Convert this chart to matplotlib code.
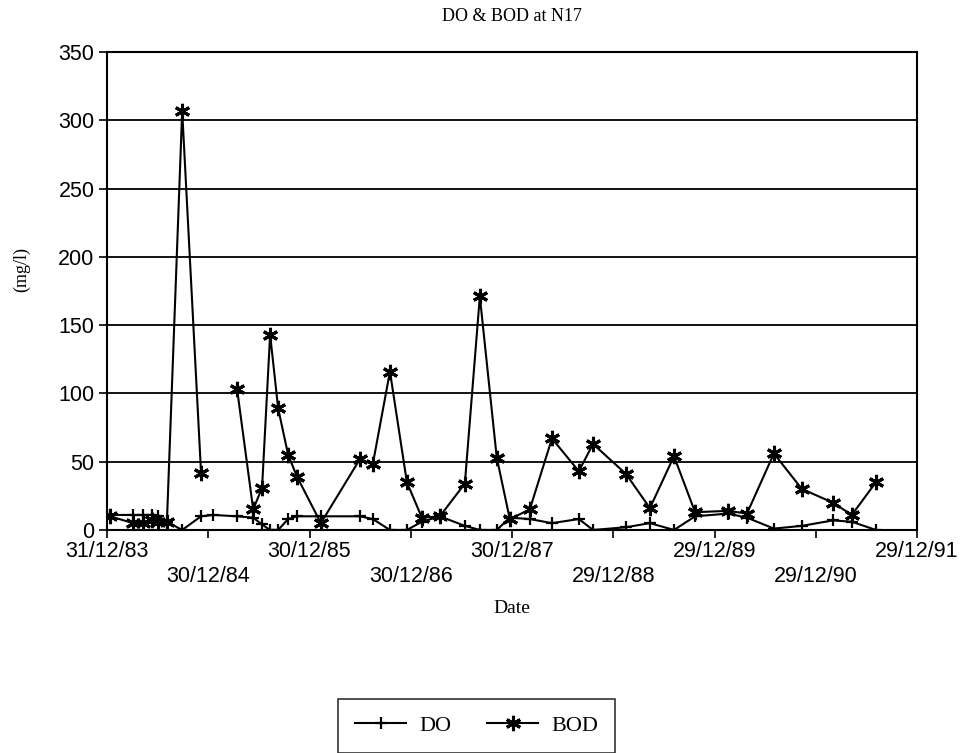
import numpy as np
import pandas as pd
import matplotlib
matplotlib.use("Agg")
import matplotlib.pyplot as plt
from matplotlib.lines import Line2D

# sampling dates at station N17
dates = ["1984-01-11", "1984-04-03", "1984-05-09", "1984-06-11", "1984-07-02",
         "1984-08-03", "1984-09-27", "1984-12-04", "1985-01-17", "1985-04-13",
         "1985-06-10", "1985-07-12", "1985-08-10", "1985-09-08", "1985-10-14",
         "1985-11-15", "1986-02-09", "1986-06-30", "1986-08-15", "1986-10-16",
         "1986-12-16", "1987-02-08", "1987-04-14", "1987-07-13", "1987-09-05",
         "1987-11-05", "1987-12-22", "1988-03-03", "1988-05-22", "1988-08-27",
         "1988-10-17", "1989-02-13", "1989-05-10", "1989-08-05", "1989-10-20",
         "1990-02-16", "1990-04-25", "1990-07-31", "1990-11-09", "1991-03-01",
         "1991-05-08", "1991-08-03"]

do_vals = [11, 11, 11, 11, 10, 6, 0, 10, 11, 10,
           9, 4, 0, 0, 8, 10, 10, 10, 8, 0,
           0, 6, 10, 3, 0, 0, 9, 8, 5, 8,
           0, 2, 5, 0, 10, 12, 9, 1, 3, 7,
           6, 0]

bod_vals = [10, 5, 5, 7, 6, 6, 307, 42, np.nan, 103,
            15, 31, 143, 89, 55, 39, 5, 52, 48, 116,
            35, 9, 10, 34, 171, 53, 8, 15, 67, 43,
            63, 41, 16, 54, 13, 14, 12, 56, 30, 20,
            11, 35]

t = pd.to_datetime(dates)

serif = ["Liberation Serif", "DejaVu Serif"]
sans = ["Liberation Sans", "DejaVu Sans"]

fig = plt.figure(figsize=(9.71, 7.53), dpi=100)
ax = fig.add_axes([0.1102, 0.2962, 0.8342, 0.6347])

star = (6, 2, 0)
ax.plot(t, do_vals, color="black", lw=1.5, marker="+", ms=8, mew=1.6, zorder=3)
ax.plot(t, bod_vals, color="black", lw=1.5, marker=star, ms=11, mew=2.2, zorder=3)

# axes limits and ticks
start = pd.Timestamp("1983-12-31")
ticks = pd.date_range(start, periods=9, freq="365D")
ax.set_xlim(ticks[0], ticks[-1])
ax.set_ylim(0, 350)
ax.set_yticks(np.arange(0, 351, 50))
ax.set_xticks(ticks)

# alternate date labels on two rows
labels = []
for i, d in enumerate(ticks):
    s = d.strftime("%d/%m/%y")
    labels.append(s if i % 2 == 0 else "\n" + s)
ax.set_xticklabels(labels, family=sans, fontsize=15.5, linespacing=1.22)
for lab in ax.get_yticklabels():
    lab.set_family(sans)
    lab.set_fontsize(15.5)
    lab.set_verticalalignment("center_baseline")

ax.tick_params(axis="both", direction="out", length=6, width=1.2, colors="black")
ax.tick_params(axis="x", pad=2)
ax.tick_params(axis="y", pad=3)

ax.grid(axis="y", color="black", lw=1.3)
ax.set_axisbelow(True)
for sp in ax.spines.values():
    sp.set_linewidth(1.5)

ax.set_title("DO & BOD at N17", family=serif, fontsize=13, pad=22)
ax.set_xlabel("Date", family=serif, fontsize=14, labelpad=10)
ax.set_ylabel("(mg/l)", family=serif, fontsize=13)
ax.yaxis.set_label_coords(-0.095, 0.545)

handles = [Line2D([], [], color="black", lw=1.5, marker="+", ms=8, mew=1.6),
           Line2D([], [], color="black", lw=1.5, marker=star, ms=11, mew=2.2)]
leg = fig.legend(handles, ["DO", "BOD"], loc="center", bbox_to_anchor=(0.491, 0.036),
                 ncol=2, frameon=True, fancybox=False, edgecolor="black",
                 prop={"family": serif, "size": 16}, handlelength=2.3,
                 columnspacing=1.6, borderpad=0.75, handletextpad=0.6)
leg.get_frame().set_linewidth(1.2)

fig.savefig("out.png", dpi=100)
